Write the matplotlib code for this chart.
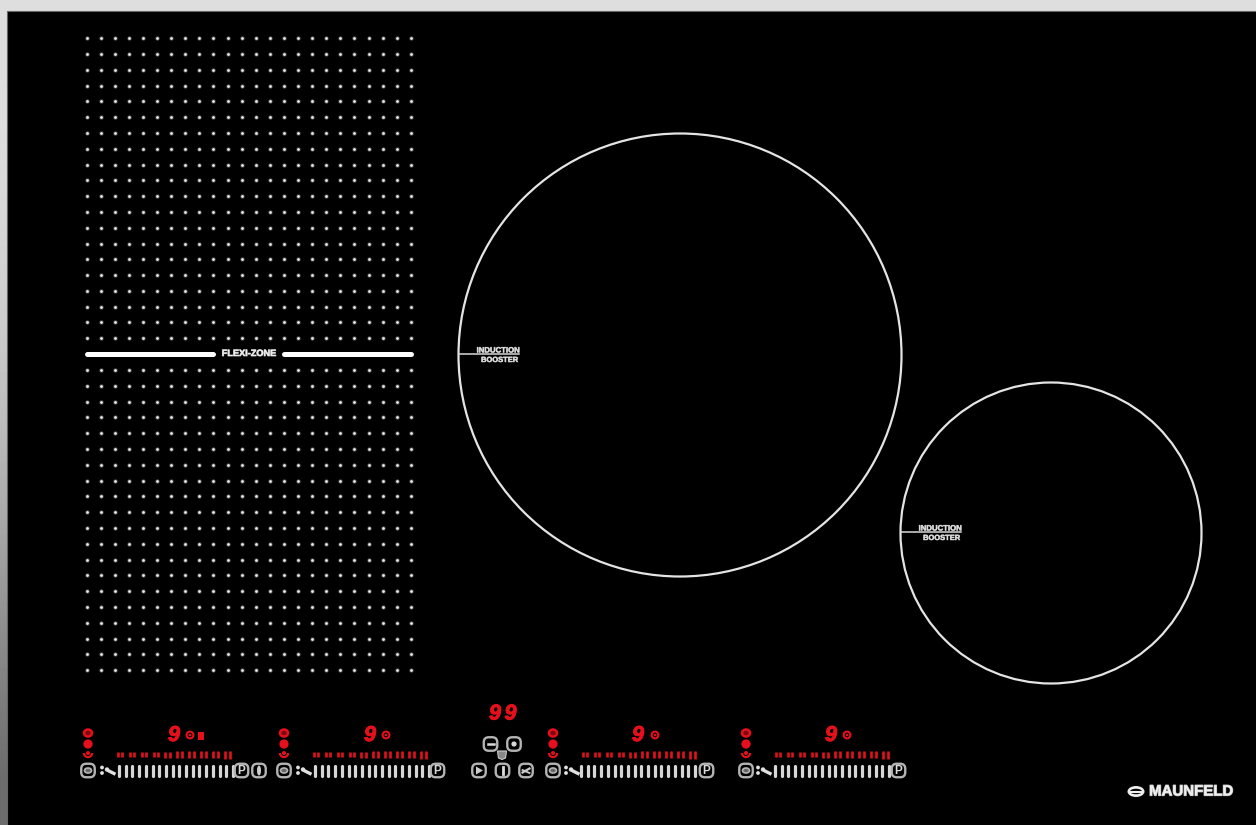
import matplotlib
matplotlib.use("Agg")
import matplotlib.pyplot as plt
import matplotlib.patheffects as pe
import numpy as np
from matplotlib.patches import Circle, Ellipse, FancyBboxPatch, Polygon, Rectangle, Wedge

# pixel positions
dot_cols = [86.5, 100.6, 114.7, 128.8, 142.9, 157, 171.1, 185.2, 199.3, 213.4, 227.5, 241.6,
            255.7, 269.8, 283.9, 298, 312.1, 326.2, 340.3, 354.4, 368.5, 382.6, 396.7, 410.8]
dot_rows_top = [38, 54, 70, 86, 101, 117, 133, 149, 165, 180,
                196, 212, 228, 244, 259, 275, 291, 307, 322, 338]
dot_rows_bottom = [370, 386, 402, 417, 433, 449, 465, 481, 496, 512,
                   528, 544, 560, 575, 591, 607, 623, 639, 654, 670]

zone_centers = [(680, 355), (1051, 533)]
zone_radii = [221.5, 150.5]
zone_labels = ["INDUCTION", "BOOSTER"]

group_icons = [88, 284, 553, 746]
group_digits = [174, 370, 638, 831]
group_clocks = [190, 386, 655, 847]
group_level_start = [120, 316, 585, 778]
group_bar_start = [119, 315, 581, 775]
group_glyphs = [108, 304, 572, 764]
group_p = [241.5, 437.5, 706.5, 898.5]
level_heights = [4.5, 5, 5, 5.5, 6, 6.5, 7, 7, 7.5, 8]
background_stops = [222, 220, 214, 204, 190, 172, 150, 128, 108]

RED = "#e5101c"
WHITE = "#e4e4e4"
BTN = "#b4b4b4"


def heavy(w, colour="#bbbbbb"):
    return [pe.withStroke(linewidth=w, foreground=colour)]


fig = plt.figure(figsize=(12.56, 8.25), dpi=100)
ax = fig.add_axes([0, 0, 1, 1])

# grey screenshot edge, darker towards the bottom
ax.imshow(np.array(background_stops).reshape(-1, 1), cmap="gray", vmin=0, vmax=255,
          extent=(0, 1256, 825, 0), aspect="auto", interpolation="bilinear", zorder=0)
ax.set_xlim(0, 1256)
ax.set_ylim(825, 0)
ax.axis("off")
ax.add_patch(Rectangle((6.5, 10.5), 1250, 815, fc="black", ec="#666666", lw=0.8, zorder=1))

# flexi zone dots
xs, ys = np.meshgrid(dot_cols, dot_rows_top + dot_rows_bottom)
ax.scatter(xs.ravel(), ys.ravel(), s=10, c="#d8d8d8", alpha=0.35, linewidths=0, zorder=2)
ax.scatter(xs.ravel(), ys.ravel(), s=4, c="#e8e8e8", linewidths=0, zorder=2)
ax.plot([87, 213], [353.5, 353.5], color="white", lw=3.6, solid_capstyle="round", zorder=2)
ax.plot([284, 411], [353.5, 353.5], color="white", lw=3.6, solid_capstyle="round", zorder=2)
ax.text(249, 353.5, "FLEXI-ZONE", color="#eeeeee", fontsize=6.6, fontweight="bold",
        family="Liberation Sans", ha="center", va="center", zorder=3,
        path_effects=heavy(0.6))

# cooking zones
for (cx, cy), r in zip(zone_centers, zone_radii):
    ax.add_patch(Circle((cx, cy), r, fill=False, ec=WHITE, lw=1.6, zorder=2))
    left = cx - r
    ax.plot([left, left + 60], [cy - 1, cy - 1], color="#d8d8d8", lw=1.1, zorder=2)
    ax.text(left + 39.5, cy - 4, zone_labels[0], color="#dddddd", fontsize=5.6, fontweight="bold",
            family="Liberation Sans", ha="center", va="center", zorder=3, path_effects=heavy(0.4))
    ax.text(left + 41, cy + 5.5, zone_labels[1], color="#dddddd", fontsize=5.4, fontweight="bold",
            family="Liberation Sans", ha="center", va="center", zorder=3, path_effects=heavy(0.4))


def button(x, y, size=13.5):
    ax.add_patch(FancyBboxPatch((x - size / 2 + 3, y - size / 2 + 3), size - 6, size - 6,
                                boxstyle="round,pad=3,rounding_size=5",
                                fc="black", ec=BTN, lw=1.7, zorder=3))


def digit(x, y, size=15.5):
    ax.text(x, y, "9", color=RED, fontsize=size, fontweight="bold", fontstyle="italic",
            family="Liberation Sans", ha="center", va="center", zorder=3,
            path_effects=heavy(0.7, RED))


def clock(x, y):
    ax.add_patch(Circle((x, y), 3.4, fill=False, ec=RED, lw=1.5, zorder=3))
    ax.add_patch(Circle((x, y), 1.3, fc=RED, ec="none", zorder=3))


for i in range(len(group_icons)):
    ix = group_icons[i]
    # red heat icons
    ax.add_patch(Ellipse((ix, 733), 8, 7, fc="#7a0a10", ec=RED, lw=1.8, zorder=3))
    ax.add_patch(Circle((ix, 744), 4.6, fc=RED, ec="none", zorder=3))
    ax.add_patch(Wedge((ix, 753), 5.2, 0, 180, width=2.2, fc=RED, ec="none", zorder=3))
    ax.add_patch(Circle((ix, 753), 2, fc=RED, ec="none", zorder=3))

    digit(group_digits[i], 735.5)
    clock(group_clocks[i], 735)

    # power level ticks, ten growing pairs
    for j, h in enumerate(level_heights):
        x = group_level_start[i] + j * 11.9
        gap = 1.9 + j * 0.07
        for dx in (-gap, gap):
            ax.plot([x + dx, x + dx], [754.5 - h / 2, 754.5 + h / 2], color=RED, lw=1.9,
                    solid_capstyle="butt", zorder=3)

    # slider bars
    for j in range(18):
        x = group_bar_start[i] + j * 6.7
        ax.plot([x, x], [765.5, 775.5], color="#d6d6d6", lw=2.3, solid_capstyle="round", zorder=3)

    # left button, glyph and P button
    button(ix, 770.5)
    ax.add_patch(Ellipse((ix, 770.5), 7, 5, fc="#666666", ec=BTN, lw=1.2, zorder=3))
    gx = group_glyphs[i]
    ax.add_patch(Circle((gx - 6, 767.5), 1.9, fc="#e0e0e0", ec="none", zorder=3))
    ax.add_patch(Circle((gx - 6, 773), 1.9, fc="#e0e0e0", ec="none", zorder=3))
    ax.add_patch(Circle((gx - 1, 769.5), 2.2, fc="#e0e0e0", ec="none", zorder=3))
    ax.plot([gx + 1, gx + 6], [771, 773.5], color="#e0e0e0", lw=2.4, zorder=3)
    button(group_p[i], 770.5)
    ax.text(group_p[i], 770.5, "P", color="#d8d8d8", fontsize=8.5, fontweight="bold",
            family="Liberation Sans", ha="center", va="center", zorder=4)

# extras for the first group
ax.add_patch(Rectangle((197.5, 731.5), 6, 8, fc=RED, ec="none", zorder=3))
button(259, 770.5)
ax.add_patch(Ellipse((259, 770.5), 4, 10, fc="#cccccc", ec="none", zorder=4))

# centre controls
digit(495, 714)
digit(510.5, 714)
button(490.5, 744)
ax.plot([487.5, 493.5], [744, 744], color="#d8d8d8", lw=1.8, zorder=4)
button(514, 744)
ax.add_patch(Circle((514, 744), 2.6, fc="#d8d8d8", ec="none", zorder=4))
ax.add_patch(Polygon([(497.5, 751), (506.5, 751), (505.5, 758), (502, 759.5), (498.5, 758)],
                     fc="#888888", ec="#cccccc", lw=0.8, zorder=4))
button(479, 770.5)
ax.add_patch(Polygon([(476, 766.5), (476, 774.5), (483, 770.5)], fc="#cccccc", ec="none", zorder=4))
button(502.5, 770.5)
ax.plot([502.5, 502.5], [767, 774], color="#dddddd", lw=2, zorder=4)
button(526, 770.5)
ax.plot([522.5, 529.5], [772.5, 768.5], color="#cccccc", lw=1.6, zorder=4)
ax.plot([522.5, 529.5], [770, 773], color="#cccccc", lw=1.3, zorder=4)

# logo
ax.add_patch(Ellipse((1136, 791.5), 17, 11, fc="#eeeeee", ec="none", zorder=3))
ax.add_patch(Ellipse((1136, 791.5), 12, 5.5, fc="black", ec="none", zorder=4))
ax.plot([1129, 1143], [791.5, 791.5], color="#eeeeee", lw=1.5, zorder=5)
ax.text(1191, 791.5, "MAUNFELD", color="#f0f0f0", fontsize=10.8, fontweight="bold",
        family="Liberation Sans", ha="center", va="center", zorder=3, path_effects=heavy(0.9))

fig.savefig("out.png", dpi=100, facecolor="black")
